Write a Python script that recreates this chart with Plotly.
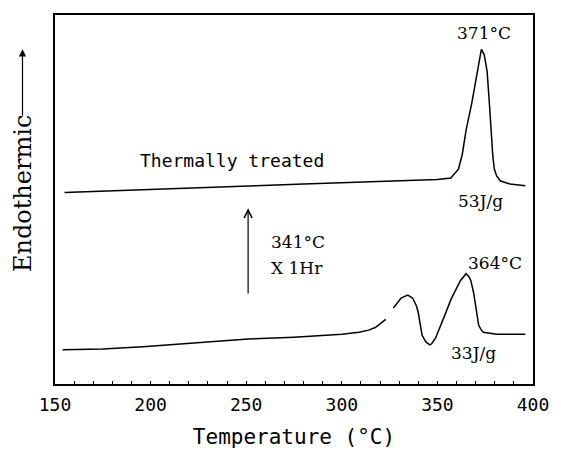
import plotly.graph_objects as go

# ---- data (y in arbitrary heat-flow units) ----
temp_treated = [155, 180, 205, 230, 255, 280, 300, 325, 350, 357, 361, 363, 365, 368, 370, 372, 373,
                374.5, 376, 377, 378, 379, 379.8, 381, 383, 388, 396]
flow_treated = [5.19, 5.23, 5.27, 5.32, 5.37, 5.42, 5.46, 5.50, 5.54, 5.58, 5.82, 6.22, 6.88, 7.62, 8.20, 8.86, 9.07,
                8.92, 8.47, 7.75, 6.88, 6.16, 5.82, 5.64, 5.50, 5.42, 5.37]

temp_original = [154, 175, 196, 210, 222, 240, 251, 275, 292, 300, 309, 314, 317.5, 321, 323, None,
                 327, 331, 334.5, 337, 339, 340, 342, 344, 346, 347, 349, 351, 354, 357, 360, 362, 365,
                 366.5, 367.5, 369, 370, 371.6, 373, 374, 381, 396]
flow_original = [0.93, 0.95, 1.01, 1.06, 1.11, 1.18, 1.22, 1.27, 1.32, 1.35, 1.40, 1.46, 1.53, 1.67, 1.75, None,
                 2.06, 2.33, 2.41, 2.33, 2.12, 1.93, 1.32, 1.14, 1.06, 1.09, 1.24, 1.48, 1.88, 2.28, 2.59, 2.80, 2.99,
                 2.91, 2.80, 2.46, 2.12, 1.59, 1.46, 1.40, 1.35, 1.35]

x_ticks = [150, 200, 250, 300, 350, 400]

mono = "DejaVu Sans Mono"
serif = "DejaVu Serif"

fig = go.Figure()
fig.add_trace(go.Scatter(x=temp_treated, y=flow_treated, mode="lines",
                         line=dict(color="black", width=1.5), showlegend=False))
fig.add_trace(go.Scatter(x=temp_original, y=flow_original, mode="lines",
                         line=dict(color="black", width=1.5), showlegend=False, connectgaps=False))

ann = []
def txt(x, y, t, font, size, xanchor="center"):
    ann.append(dict(x=x, y=y, xref="x", yref="y", text=t, showarrow=False,
                    font=dict(family=font, size=size, color="black"), xanchor=xanchor, yanchor="middle"))

txt(374.2, 9.50, "371°C", serif, 17)
txt(372.7, 4.95, "53J/g", serif, 17)
txt(379.9, 3.28, "364°C", serif, 17)
txt(369.1, 0.85, "33J/g", serif, 17)
txt(261.9, 3.86, "341°C", serif, 17, "left")
txt(261.9, 3.15, "X 1Hr", serif, 17, "left")
txt(242.8, 6.06, "Thermally treated", mono, 18)

# heat-treatment arrow
ann.append(dict(x=251, y=4.76, ax=251, ay=2.41, xref="x", yref="y", axref="x", ayref="y",
                text="", showarrow=True, arrowhead=5, arrowsize=1.3, arrowwidth=1.2, arrowcolor="black",
                standoff=0, startstandoff=0))

# y axis label with arrow
ann.append(dict(x=-0.068, y=0.516, xref="paper", yref="paper", text="Endothermic", textangle=-90,
                xanchor="center", yanchor="middle",
                showarrow=False, font=dict(family=serif, size=24, color="black")))
ann.append(dict(x=-0.068, y=0.907, xref="paper", yref="paper", ax=0, ay=68, text="",
                showarrow=True, arrowhead=2, arrowsize=1.2, arrowwidth=1.2, arrowcolor="black",
                standoff=0, startstandoff=0))

fig.update_layout(
    width=561, height=457,
    margin=dict(l=55, r=21, t=15, b=64),
    paper_bgcolor="white", plot_bgcolor="white",
    annotations=ann,
    xaxis=dict(range=[150, 400], tickvals=x_ticks, ticktext=[str(v) for v in x_ticks],
               showgrid=False, zeroline=False, showline=True, linecolor="black", linewidth=2,
               mirror=True, ticks="inside", ticklen=3, tickcolor="black",
               minor=dict(dtick=10, ticks="inside", ticklen=3, tickcolor="black"),
               ticklabelstandoff=3,
               tickfont=dict(family=mono, size=18, color="black"),
               title=dict(text="Temperature (°C)", font=dict(family=mono, size=21, color="black"),
                          standoff=16)),
    yaxis=dict(range=[0, 10], showticklabels=False, ticks="", showgrid=False, zeroline=False,
               showline=True, linecolor="black", linewidth=2, mirror=True),
)

fig.write_html("out.html")
